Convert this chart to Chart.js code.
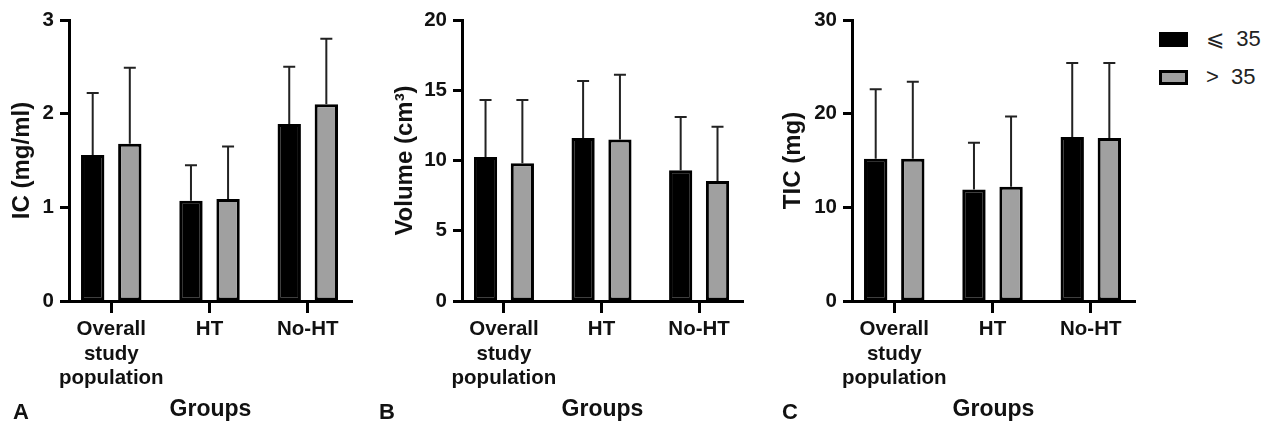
<!DOCTYPE html>
<html>
<head>
<meta charset="utf-8">
<script src="https://cdn.jsdelivr.net/npm/chart.js@4.4.1/dist/chart.umd.min.js"></script>
<style>
  body { margin: 0; background: #fff; width: 1269px; height: 425px; position: relative; overflow: hidden; font-family: "Liberation Sans", Arial, sans-serif; }
  canvas { position: absolute; top: 0; }
  .panel-letter { position: absolute; top: 399px; font: bold 22px "Liberation Sans", Arial, sans-serif; color: #111; }
  #legend { position: absolute; left: 1159px; top: 20px; margin: 0; padding: 0; list-style: none; }
  #legend li { height: 38px; display: flex; align-items: center; font: 22px "Liberation Sans", Arial, sans-serif; color: #222; white-space: pre; }
  #legend .box { display: inline-block; width: 29px; height: 15px; box-sizing: border-box; margin-right: 18px; }
</style>
</head>
<body>
<canvas id="chartA" width="365" height="425" style="left:0px"></canvas>
<canvas id="chartB" width="375" height="425" style="left:380px"></canvas>
<canvas id="chartC" width="375" height="425" style="left:770px"></canvas>
<div class="panel-letter" style="left:13px">A</div>
<div class="panel-letter" style="left:379px">B</div>
<div class="panel-letter" style="left:782px">C</div>
<ul id="legend"></ul>

<script>
// Groups on the x axis (multi-line labels as arrays)
const groups = [['Overall', 'study', 'population'], 'HT', 'No-HT'];
const seriesNames = ['⩽  35', '>  35'];

// Panel A: IC (mg/ml), mean and upper SD
const icLow = [1.56, 1.07, 1.89];
const icLowSd = [0.66, 0.38, 0.61];
const icHigh = [1.68, 1.09, 2.10];
const icHighSd = [0.81, 0.56, 0.70];

// Panel B: Volume (cm3)
const volLow = [10.25, 11.6, 9.3];
const volLowSd = [4.05, 4.06, 3.8];
const volHigh = [9.8, 11.5, 8.54];
const volHighSd = [4.5, 4.6, 3.86];

// Panel C: TIC (mg)
const ticLow = [15.2, 11.9, 17.5];
const ticLowSd = [7.4, 5.0, 7.9];
const ticHigh = [15.2, 12.2, 17.4];
const ticHighSd = [8.2, 7.5, 8.0];

const FONT = '"Liberation Sans", Arial, sans-serif';

// draws the upper error bar (line + cap) on top of each bar
const errorBars = {
  id: 'errorBars',
  afterDatasetsDraw(chart) {
    const ctx = chart.ctx;
    const yScale = chart.scales.y;
    ctx.save();
    ctx.strokeStyle = '#222';
    ctx.lineWidth = 2;
    chart.data.datasets.forEach((ds, i) => {
      const meta = chart.getDatasetMeta(i);
      meta.data.forEach((bar, j) => {
        const top = yScale.getPixelForValue(ds.data[j].y + ds.sd[j]);
        ctx.beginPath();
        ctx.moveTo(bar.x, bar.y);
        ctx.lineTo(bar.x, top);
        ctx.moveTo(bar.x - 6, top);
        ctx.lineTo(bar.x + 6, top);
        ctx.stroke();
      });
    });
    ctx.restore();
  }
};

function toPoints(values) {
  return values.map((v, i) => ({ x: i, y: v }));
}

function makePanel(id, opts) {
  const ctx = document.getElementById(id).getContext('2d');
  return new Chart(ctx, {
    type: 'bar',
    data: {
      datasets: [{
        label: seriesNames[0],
        data: toPoints(opts.low),
        sd: opts.lowSd,
        backgroundColor: '#000',
        borderColor: '#000',
        borderWidth: 3,
        borderSkipped: false
      }, {
        label: seriesNames[1],
        data: toPoints(opts.high),
        sd: opts.highSd,
        backgroundColor: '#a0a0a0',
        borderColor: '#000',
        borderWidth: 3,
        borderSkipped: false
      }]
    },
    options: {
      responsive: false,
      animation: false,
      devicePixelRatio: 1,
      categoryPercentage: 0.755,
      barPercentage: 0.63,
      layout: { padding: { top: 20, right: opts.padRight, left: 0, bottom: 0 } },
      plugins: {
        legend: { display: false },
        tooltip: { enabled: false }
      },
      scales: {
        x: {
          type: 'linear',
          min: -0.43,
          max: 2.45,
          offset: false,
          afterBuildTicks: (scale) => {
            scale.ticks = groups.map((g, i) => ({ value: i }));
          },
          afterFit: (scale) => { scale.height = 124; },
          grid: {
            offset: false,
            drawOnChartArea: false,
            drawTicks: true,
            tickLength: 12,
            tickWidth: 3,
            tickColor: '#000'
          },
          border: { display: true, width: 3, color: '#000' },
          ticks: {
            autoSkip: false,
            maxRotation: 0,
            minRotation: 0,
            padding: 4,
            color: '#111',
            font: { family: FONT, size: 20.5, weight: 'bold', lineHeight: 1.2 },
            callback: (value) => groups[value]
          },
          title: {
            display: true,
            text: 'Groups',
            color: '#111',
            padding: { top: 0, bottom: 2 },
            font: { family: FONT, size: 23, weight: 'bold' }
          }
        },
        y: {
          min: 0,
          max: opts.max,
          afterFit: (scale) => { scale.width = opts.axisWidth; },
          grid: {
            drawOnChartArea: false,
            drawTicks: true,
            tickLength: 9,
            tickWidth: 3,
            tickColor: '#000'
          },
          border: { display: true, width: 3, color: '#000' },
          ticks: {
            stepSize: opts.step,
            padding: 6,
            color: '#111',
            font: { family: FONT, size: 20.5, weight: 'bold' }
          },
          title: {
            display: true,
            text: opts.title,
            color: '#111',
            padding: { top: opts.titlePad, bottom: 0 },
            font: { family: FONT, size: 24, weight: 'bold' }
          }
        }
      }
    },
    plugins: [errorBars]
  });
}

makePanel('chartA', {
  low: icLow, lowSd: icLowSd, high: icHigh, highSd: icHighSd,
  max: 3, step: 1, title: 'IC (mg/ml)', axisWidth: 69, titlePad: 8, padRight: 13
});

makePanel('chartB', {
  low: volLow, lowSd: volLowSd, high: volHigh, highSd: volHighSd,
  max: 20, step: 5, title: 'Volume (cm³)', axisWidth: 82, titlePad: 11, padRight: 12
});

const chartC = makePanel('chartC', {
  low: ticLow, lowSd: ticLowSd, high: ticHigh, highSd: ticHighSd,
  max: 30, step: 10, title: 'TIC (mg)', axisWidth: 82, titlePad: 9, padRight: 10
});

// HTML legend built from the last chart's datasets
const legendEl = document.getElementById('legend');
chartC.data.datasets.forEach((ds) => {
  const li = document.createElement('li');
  const box = document.createElement('span');
  box.className = 'box';
  box.style.background = ds.backgroundColor;
  box.style.border = ds.borderWidth + 'px solid ' + ds.borderColor;
  li.appendChild(box);
  li.appendChild(document.createTextNode(ds.label));
  legendEl.appendChild(li);
});
</script>
</body>
</html>
